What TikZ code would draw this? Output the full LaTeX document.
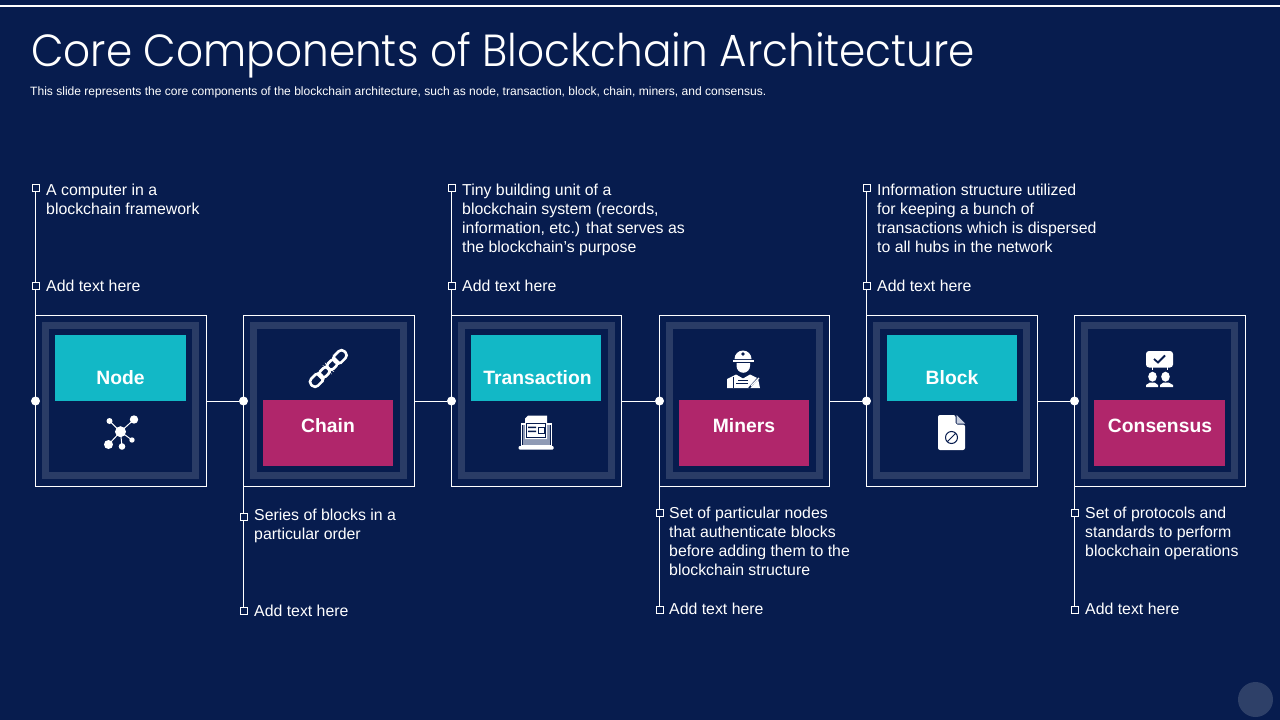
\documentclass[tikz,border=0pt]{standalone}
\usepackage{fontspec}
\setmainfont{Liberation Sans}
\newfontfamily\headfont{Poppins Light}
\usetikzlibrary{positioning}
\definecolor{slidebg}{HTML}{071C4E}
\definecolor{bandcol}{HTML}{2A3C66}
\definecolor{tealcol}{HTML}{12B8C6}
\definecolor{rosecol}{HTML}{B0266B}
\definecolor{pagebtn}{HTML}{2E4068}
\definecolor{foldcol}{HTML}{C9D0E0}

\begin{document}
\begin{tikzpicture}[
		x=1pt, y=-1pt,
		outer/.style={
			rectangle,
			draw=white,
			line width=1pt,
			outer sep=0pt,
			minimum width=171pt,
			minimum height=171pt
		},
		band/.style={
			rectangle,
			draw=bandcol,
			line width=7pt,
			minimum width=150pt,
			minimum height=150pt,
			inner sep=0pt,
			outer sep=0pt
		},
		tealbox/.style={
			rectangle,
			fill=tealcol,
			minimum width=130pt,
			minimum height=66pt
		},
		rosebox/.style={
			rectangle,
			fill=rosecol,
			minimum width=130pt,
			minimum height=66pt
		},
		caption/.style={
			text=white,
			font=\fontsize{19.3}{22}\selectfont\bfseries
		},
		info/.style={
			anchor=north west,
			inner sep=0pt,
			align=left,
			text=white,
			font=\fontsize{15.85}{19}\selectfont,
			execute at begin node=\strut
		},
		tick/.style={
			rectangle,
			draw=white,
			fill=slidebg,
			line width=1pt,
			minimum size=7pt,
			inner sep=0pt
		},
		dot/.style={
			circle,
			fill=white,
			minimum size=9pt,
			inner sep=0pt
		},
		wire/.style={
			draw=white,
			line width=1pt
		},
		linkring/.style={
			draw=white,
			line width=2.6pt,
			rounded corners=4pt
		}
		]
		% Background and heading
		\fill [slidebg] (0,0) rectangle (1280,720);
		\useasboundingbox (0,0) rectangle (1280,720);
		\fill [white] (0,5) rectangle (1280,7.4);
		\node [anchor=base west, inner sep=0pt, text=white, xscale=0.938, font=\fontsize{45}{50}\selectfont\headfont] (heading) at (31,66.3)
		{Core Components of Blockchain Architecture};
		\node [anchor=base west, inner sep=0pt, text=white, font=\fontsize{12.06}{14}\selectfont] (subheading) at (30,95)
		{This slide represents the core components of the blockchain architecture, such as node, transaction, block, chain, miners, and consensus.};
		\node [circle, fill=pagebtn, minimum size=35pt, inner sep=0pt] (pagebutton) at (1255.5,699.5) {};
		
		% We start by placing the blocks
		\node [outer] (nodeouter) at (121,401) {};
		\node [outer] (chainouter) at (329,401) {};
		\node [outer, minimum width=170pt] (transouter) at (536.5,401) {};
		\node [outer, minimum width=170pt] (minerouter) at (744.5,401) {};
		\node [outer] (blockouter) at (952,401) {};
		\node [outer] (consouter) at (1160,401) {};
		
		\node [band] (nodeband) at (120.5,400.5) {};
		\node [band] (chainband) at (328.5,400.5) {};
		\node [band] (transband) at (536.5,400.5) {};
		\node [band] (minerband) at (744.5,400.5) {};
		\node [band] (blockband) at (951.5,400.5) {};
		\node [band] (consband) at (1159.5,400.5) {};
		
		\node [tealbox, minimum width=131pt] (nodebox) at (120.5,368) {};
		\node [rosebox] (chainbox) at (328,433) {};
		\node [tealbox] (transbox) at (536,368) {};
		\node [rosebox] (minerbox) at (744,433) {};
		\node [tealbox] (blockbox) at (952,368) {};
		\node [rosebox, minimum width=131pt] (consbox) at (1159.5,433) {};
		
		\node [caption] (nodename) at (120.5,377.5) {Node};
		\node [caption] (chainname) at (328,425.5) {Chain};
		\node [caption] (transname) at (537.5,377.5) {Transaction};
		\node [caption] (minername) at (744,425.5) {Miners};
		\node [caption] (blockname) at (952,377.5) {Block};
		\node [caption] (consname) at (1160,425.5) {Consensus};
		
		% Junction dots and the small squares
		\node [dot] (nodedot) at (35.5,401) {};
		\node [dot] (chaindot) at (243.5,401) {};
		\node [dot] (transdot) at (451.5,401) {};
		\node [dot] (minerdot) at (659.5,401) {};
		\node [dot] (blockdot) at (866.5,401) {};
		\node [dot] (consdot) at (1074.5,401) {};
		
		\node [tick] (nodetop) at (35.5,187.5) {};
		\node [tick] (nodeadd) at (35.5,285.5) {};
		\node [tick] (chaintop) at (243.5,516.5) {};
		\node [tick] (chainadd) at (243.5,610.5) {};
		\node [tick] (transtop) at (451.5,187.5) {};
		\node [tick] (transadd) at (451.5,285.5) {};
		\node [tick] (minertop) at (659.5,512.5) {};
		\node [tick] (mineradd) at (659.5,610) {};
		\node [tick] (blocktop) at (866.5,187.5) {};
		\node [tick] (blockadd) at (866.5,285.5) {};
		\node [tick] (constop) at (1074.5,512.5) {};
		\node [tick] (consadd) at (1074.5,610) {};
		
		% Connectors
		\draw [wire] (nodeouter) -- (chaindot);
		\draw [wire] (chainouter) -- (transdot);
		\draw [wire] (transouter) -- (minerdot);
		\draw [wire] (minerouter) -- (blockdot);
		\draw [wire] (blockouter) -- (consdot);
		\draw [wire] (nodetop) -- (nodeadd);
		\draw [wire] (nodeadd) -- (nodeouter.north west);
		\draw [wire] (transtop) -- (transadd);
		\draw [wire] (transadd) -- (transouter.north west);
		\draw [wire] (blocktop) -- (blockadd);
		\draw [wire] (blockadd) -- (blockouter.north west);
		\draw [wire] (chainouter.south west) -- (chaintop);
		\draw [wire] (chaintop) -- (chainadd);
		\draw [wire] (minerouter.south west) -- (minertop);
		\draw [wire] (minertop) -- (mineradd);
		\draw [wire] (consouter.south west) -- (constop);
		\draw [wire] (constop) -- (consadd);
		
		% Texts
		\node [info] (nodeinfo) at (46,184.3) {A computer in a\\blockchain framework};
		\node [info] (nodemore) at (46,278.2) {Add text here};
		\node [info] (chaininfo) at (254,509.3) {Series of blocks in a\\particular order};
		\node [info] (chainmore) at (254,603.2) {Add text here};
		\node [info] (transinfo) at (462,184.3) {Tiny building unit of a\\blockchain system (records,\\information, etc.) that serves as\\the blockchain's purpose};
		\node [info] (transmore) at (462,278.2) {Add text here};
		\node [info] (minerinfo) at (669,507.3) {Set of particular nodes\\that authenticate blocks\\before adding them to the\\blockchain structure};
		\node [info] (minermore) at (669,601.2) {Add text here};
		\node [info] (blockinfo) at (877,184.3) {Information structure utilized\\for keeping a bunch of\\transactions which is dispersed\\to all hubs in the network};
		\node [info] (blockmore) at (877,278.2) {Add text here};
		\node [info] (consinfo) at (1085,507.3) {Set of protocols and\\standards to perform\\blockchain operations};
		\node [info] (consmore) at (1085,601.2) {Add text here};
		
		% Icons: network
		\draw [white, line width=1pt] (109.5,421) -- (120.5,431.7) -- (134,419.5) (108.5,444.5) -- (120.5,431.7) -- (122,446.5) (120.5,431.7) -- (132,440);
		\fill [white] (120.5,431.7) circle (5.5) (134,419.5) circle (4.2) (109.5,421) circle (3) (108.5,444.5) circle (4.5) (122,446.5) circle (3.3) (132,440) circle (2.7);
		
		% Icons: chain
		\begin{scope}[shift={(328.3,368.5)}, rotate=45]
		\draw [linkring] (-23.5,-4.8) rectangle (-9.5,4.8);
		\draw [linkring] (-11.5,-3.8) rectangle (0.5,3.8);
		\draw [linkring] (-0.5,-3.8) rectangle (11.5,3.8);
		\draw [linkring] (9.5,-4.8) rectangle (23.5,4.8);
		\end{scope}
		
		% Icons: laptop with page
		\draw [white, line width=1.2pt, fill=slidebg] (521.5,424) rectangle (551.5,446);
		\fill [foldcol!70!slidebg] (523,425) rectangle (550,444.5);
		\fill [white] (528,415.5) -- (547,415.5) -- (547,439) -- (525,439) -- (525,418.5) -- cycle;
		\draw [slidebg, line width=0.9pt] (526.5,423.5) rectangle (545.5,437);
		\fill [slidebg] (528,426.5) rectangle (536,428) (528,430.5) rectangle (536,432);
		\draw [slidebg, line width=0.8pt] (538,427.5) rectangle (544,433.5);
		\fill [white, rounded corners=1pt] (518.5,446) rectangle (553.5,449.5);
		
		% Icons: miner
		\fill [white] (734.5,359) arc [start angle=180, end angle=360, radius=8.5] -- cycle;
		\fill [white] (733,360.3) rectangle (753.5,362);
		\fill [slidebg] (743,354) circle (1.8);
		\fill [white] (736.5,363) -- (750,363) -- (750,366) arc [start angle=0, end angle=180, radius=6.75] -- cycle;
		\fill [white] (727,388) -- (727,379) -- (736,374.5) -- (743,378.5) -- (750,374.5) -- (758,378.5) -- (760,388) -- cycle;
		\draw [slidebg, line width=1pt] (733,377) -- (733,388) (738,380) -- (748,380) (736,383.5) -- (748,383.5);
		\draw [slidebg, line width=1.6pt] (749,388) -- (760,376);
		\draw [white, line width=1.2pt] (751,386) -- (759,378);
		
		% Icons: file with a sign
		\fill [white, rounded corners=2pt] (938,415) -- (955.5,415) -- (955.5,424.5) -- (965,424.5) -- (965,450) -- (938,450) -- cycle;
		\fill [foldcol] (956.5,415) -- (965,423.5) -- (956.5,423.5) -- cycle;
		\draw [slidebg, line width=1pt] (951.5,437.5) circle (6) (947.3,441.7) -- (955.7,433.3);
		
		% Icons: two people with a bubble
		\fill [white, rounded corners=3pt] (1146,351) rectangle (1173,367.5);
		\draw [slidebg, line width=1.8pt] (1154,359) -- (1158,362.5) -- (1165,355.5);
		\draw [white, line width=1pt] (1152,367) -- (1152,370) (1167,367) -- (1167,370);
		\fill [white] (1152.5,376.7) ellipse (4.3 and 5) (1165.5,376.7) ellipse (4.3 and 5);
		\fill [white] (1146,387) -- (1146,385) -- (1150,382.5) -- (1154.5,382.5) -- (1158,385) -- (1158,387) -- cycle;
		\fill [white] (1160,387) -- (1160,385) -- (1163.5,382.5) -- (1168.5,382.5) -- (1173,385) -- (1173,387) -- cycle;
		
		\end{tikzpicture}
\end{document}
